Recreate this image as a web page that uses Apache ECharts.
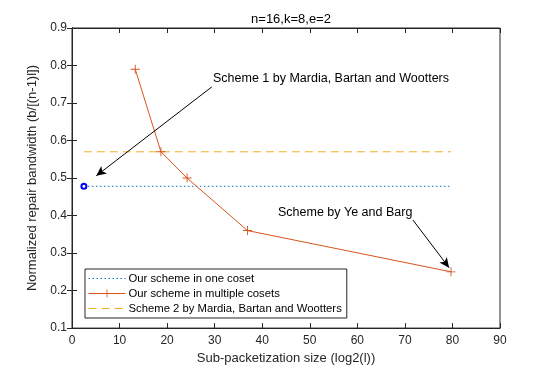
<!DOCTYPE html>
<html>
<head>
<meta charset="utf-8">
<script src="https://cdn.jsdelivr.net/npm/echarts@6/dist/echarts.min.js"></script>
<style>
html, body { margin: 0; padding: 0; background: #fff; }
#chart1 { width: 554px; height: 370px; }
</style>
</head>
<body>
<div id="chart1"></div>
<script>
// data
var oneCosetX = [2.5, 79.7];
var oneCosetY = [0.478, 0.478];
var multiX = [13.3, 18.7, 24.2, 36.9, 79.7];
var multiY = [0.79, 0.57, 0.5, 0.36, 0.25];
var scheme2X = [2.5, 79.7];
var scheme2Y = [0.57, 0.57];
var scheme1Point = [2.5, 0.478];
var arrow1 = [[29.4, 0.743], [5.1, 0.506]];
var arrow2 = [[71.7, 0.388], [79.3, 0.261]];

function pairs(xs, ys) {
    return xs.map(function (x, i) { return [x, ys[i]]; });
}

var font = 'Liberation Sans, Arial, Helvetica, sans-serif';
var axisColor = '#262626';
var plusPath = 'path://M4.5,0H5.5V4.5H10V5.5H5.5V10H4.5V5.5H0V4.5H4.5Z';

var myChart = echarts.init(document.getElementById('chart1'));

option = {
    animation: false,
    textStyle: { fontFamily: font },
    title: {
        text: 'n=16,k=8,e=2',
        left: 286,
        textAlign: 'center',
        top: 8,
        textStyle: { fontSize: 13, fontWeight: 'normal', color: '#000', fontFamily: font }
    },
    grid: { left: 72, right: 54, top: 28, bottom: 41, show: true, borderColor: axisColor, borderWidth: 1 },
    legend: {
        data: [
            { name: 'Our scheme in one coset', itemStyle: { opacity: 0 } },
            'Our scheme in multiple cosets',
            { name: 'Scheme 2 by Mardia, Bartan and Wootters', itemStyle: { opacity: 0 } }
        ],
        orient: 'vertical',
        left: 85,
        top: 269,
        itemWidth: 37,
        itemHeight: 10,
        itemGap: 4,
        padding: [4, 5, 4, 3],
        borderColor: axisColor,
        borderWidth: 1,
        backgroundColor: '#fff',
        lineStyle: { width: 1 },
        textStyle: { fontSize: 11.3, color: '#000', fontFamily: font, padding: [0, 0, 0, -2] }
    },
    xAxis: [{
        type: 'value',
        min: 0, max: 90, interval: 10,
        name: 'Sub-packetization size (log2(l))',
        nameLocation: 'middle',
        nameGap: 23,
        nameTextStyle: { fontSize: 13, color: axisColor },
        axisLine: { lineStyle: { color: axisColor } },
        axisTick: { inside: true, length: 5, lineStyle: { color: axisColor } },
        axisLabel: { fontSize: 12, color: axisColor, margin: 7 },
        splitLine: { show: false }
    }, {
        type: 'value', position: 'top',
        min: 0, max: 90, interval: 10,
        axisLine: { lineStyle: { color: axisColor } },
        axisTick: { inside: true, length: 5, lineStyle: { color: axisColor } },
        axisLabel: { show: false },
        splitLine: { show: false }
    }],
    yAxis: [{
        type: 'value',
        min: 0.1, max: 0.9, interval: 0.1,
        name: 'Normalized repair bandwidth (b/[(n-1)l])',
        nameLocation: 'middle',
        nameGap: 27,
        nameTextStyle: { fontSize: 13, color: axisColor },
        axisLine: { lineStyle: { color: axisColor } },
        axisTick: { inside: true, length: 5, lineStyle: { color: axisColor } },
        axisLabel: { fontSize: 12, color: axisColor, margin: 5, formatter: function (v) { return v.toFixed(1); } },
        splitLine: { show: false }
    }, {
        type: 'value', position: 'right',
        min: 0.1, max: 0.9, interval: 0.1,
        axisLine: { lineStyle: { color: axisColor } },
        axisTick: { inside: true, length: 5, lineStyle: { color: axisColor } },
        axisLabel: { show: false },
        splitLine: { show: false }
    }],
    series: [{
        name: 'Our scheme in one coset',
        type: 'line',
        data: pairs(oneCosetX, oneCosetY),
        showSymbol: false,
        symbol: 'none',
        itemStyle: { color: '#0072BD' },
        lineStyle: { color: '#0072BD', width: 1, type: [1.5, 2.5] },
        markLine: {
            silent: true,
            symbol: ['none', 'arrow'],
            symbolSize: [7, 10],
            label: { show: false },
            lineStyle: { color: '#000', width: 1, type: 'solid' },
            data: [
                [{ coord: arrow1[0] }, { coord: arrow1[1] }],
                [{ coord: arrow2[0] }, { coord: arrow2[1] }]
            ]
        }
    }, {
        name: 'Our scheme in multiple cosets',
        type: 'line',
        data: pairs(multiX, multiY),
        symbol: plusPath,
        symbolSize: 9,
        itemStyle: { color: '#D95319' },
        lineStyle: { color: '#D95319', width: 1 }
    }, {
        name: 'Scheme 2 by Mardia, Bartan and Wootters',
        type: 'line',
        data: pairs(scheme2X, scheme2Y),
        symbol: 'none',
        itemStyle: { color: '#EDB120' },
        lineStyle: { color: '#EDB120', width: 1, type: [8, 5] }
    }, {
        name: 'Scheme 1 point',
        type: 'line',
        data: [scheme1Point],
        symbol: 'emptyCircle',
        symbolSize: 5,
        itemStyle: { color: '#0000FF', borderWidth: 1.2 },
        lineStyle: { width: 0 }
    }],
    graphic: [{
        type: 'text',
        left: 213, top: 72,
        style: { text: 'Scheme 1 by Mardia, Bartan and Wootters', font: '12.5px ' + font, fill: '#000' }
    }, {
        type: 'text',
        left: 278, top: 206,
        style: { text: 'Scheme by Ye and Barg', font: '12.5px ' + font, fill: '#000' }
    }]
};
myChart.setOption(option);
window.onresize = myChart.resize;
</script>
</body>
</html>
